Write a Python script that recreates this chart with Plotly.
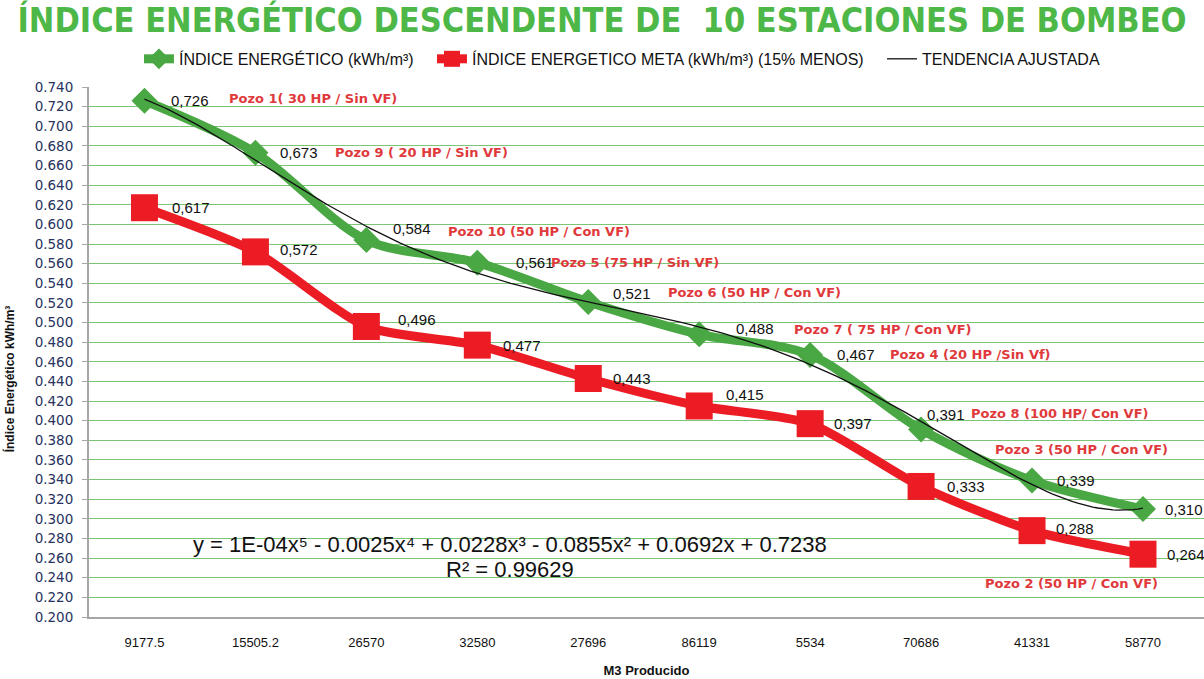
import numpy as np
import plotly.graph_objects as go

# M3 produced per pumping station (category labels on the x axis)
m3_producido = ["9177.5", "15505.2", "26570", "32580", "27696",
                "86119", "5534", "70686", "41331", "58770"]

# Energy index (kWh/m3) and the 15% lower target
indice = [0.726, 0.673, 0.584, 0.561, 0.521, 0.488, 0.467, 0.391, 0.339, 0.310]
indice_meta = [0.617, 0.572, 0.496, 0.477, 0.443, 0.415, 0.397, 0.333, 0.288, 0.264]

# Well names, one per station
pozos = ["Pozo 1( 30 HP / Sin VF)", "Pozo 9 ( 20 HP / Sin VF)",
         "Pozo 10 (50 HP / Con VF)", "Pozo 5 (75 HP / Sin VF)",
         "Pozo 6 (50 HP / Con VF)", "Pozo 7 ( 75 HP / Con VF)",
         "Pozo 4 (20 HP /Sin Vf)", "Pozo 8 (100 HP/ Con VF)",
         "Pozo 3 (50 HP / Con VF)", "Pozo 2 (50 HP / Con VF)"]

GREEN = "#4aa844"
RED = "#ec1c24"
NAVY = "#27325e"
PAD = "\u00a0" * 3

xs = np.arange(len(indice))

# 5th-degree polynomial trend over the energy index
coef = np.polyfit(xs, indice, 5)
xf = np.linspace(0, len(indice) - 1, 200)
yf = np.polyval(coef, xf)

fig = go.Figure()
fig.add_trace(go.Scatter(
    x=xs, y=indice, name="ÍNDICE ENERGÉTICO (kWh/m³)" + PAD,
    mode="lines+markers",
    line=dict(color=GREEN, width=9, shape="spline", smoothing=0.9),
    marker=dict(symbol="diamond", size=20, color=GREEN),
))
fig.add_trace(go.Scatter(
    x=xs, y=indice_meta, name="ÍNDICE ENERGETICO META (kWh/m³) (15% MENOS)" + PAD,
    mode="lines+markers",
    line=dict(color=RED, width=9, shape="spline", smoothing=0.7),
    marker=dict(symbol="square", size=27, color=RED),
))
fig.add_trace(go.Scatter(
    x=xf, y=yf, name="TENDENCIA AJUSTADA", mode="lines",
    line=dict(color="#111111", width=1.3),
))

# value labels (comma as decimal separator), offsets in pixels
def fmt(v):
    return f"{v:.3f}".replace(".", ",")

green_off = [(25, 0), (23, 0), (25, 12), (37, 0), (23, 8),
             (35, 6), (25, 0), (4, 15), (23, 0), (20, 0)]
red_off = [(26, 0), (23, 2), (30, 7), (24, 0), (23, 0),
           (25, 11), (22, 0), (24, 0), (22, 2), (22, 0)]
label_font = dict(family="Liberation Sans", size=15, color="#111111")
ann = []
for i, v in enumerate(indice):
    dx, dy = green_off[i]
    ann.append(dict(x=i, y=v, text=fmt(v), showarrow=False, xanchor="left",
                    yanchor="middle", xshift=dx, yshift=dy, font=label_font))
for i, v in enumerate(indice_meta):
    dx, dy = red_off[i]
    ann.append(dict(x=i, y=v, text=fmt(v), showarrow=False, xanchor="left",
                    yanchor="middle", xshift=dx, yshift=dy, font=label_font))

# well names next to each station
pozo_off = [(83, 2), (78, 0), (80, 9), (72, 0), (78, 9),
            (93, 5), (78, 0), (48, 16), (-39, 31), (-160, -29)]
pozo_font = dict(family="DejaVu Sans", size=13, color="#e0393b")
for i, name in enumerate(pozos):
    dx, dy = pozo_off[i]
    base = indice_meta[i] if i == len(pozos) - 1 else indice[i]
    ann.append(dict(x=i, y=base, text=f"<b>{name}</b>", showarrow=False,
                    xanchor="left", yanchor="middle", xshift=dx, yshift=dy,
                    font=pozo_font))

# trend equation
eq_font = dict(family="Liberation Sans", size=22, color="#111111")
ann.append(dict(xref="paper", yref="paper", x=0.378, y=0.137,
                text="y = 1E-04x⁵ - 0.0025x⁴ + 0.0228x³ - 0.0855x² + 0.0692x + 0.7238",
                showarrow=False, xanchor="center", yanchor="middle", font=eq_font))
ann.append(dict(xref="paper", yref="paper", x=0.378, y=0.090,
                text="R² = 0.99629", showarrow=False, xanchor="center",
                yanchor="middle", font=eq_font))

# y axis title
ann.append(dict(xref="paper", yref="paper", x=-0.071, y=0.45,
                text="<b>Índice Energético kWh/m³</b>", textangle=-90,
                showarrow=False, xanchor="center", yanchor="middle",
                font=dict(family="Liberation Sans", size=12, color="#111111")))

fig.update_layout(
    width=1204, height=679,
    margin=dict(l=89, r=0, t=87, b=62),
    paper_bgcolor="white", plot_bgcolor="white",
    title=dict(text="<b>ÍNDICE ENERGÉTICO DESCENDENTE DE \u00a010 ESTACIONES DE BOMBEO</b>",
               x=0.5, xanchor="center", y=0.97, yanchor="middle",
               font=dict(family="DejaVu Sans Condensed, Liberation Sans", size=34,
                         color="#4db848")),
    legend=dict(orientation="h", x=0.478, xanchor="center", y=1.053,
                yanchor="middle", bgcolor="rgba(0,0,0,0)",
                font=dict(family="Liberation Sans", size=16, color="#111111")),
    annotations=ann,
    showlegend=True,
)
fig.update_xaxes(
    range=[-0.5, 9.55], tickvals=list(xs), ticktext=m3_producido,
    showgrid=False, zeroline=False,
    showline=True, linecolor="#a6a6a6", linewidth=2,
    ticks="", ticklabelstandoff=12,
    tickfont=dict(family="Liberation Sans", size=13, color="#111111"),
    title=dict(text="<b>M3 Producido</b>", standoff=17,
               font=dict(family="Liberation Sans", size=13, color="#111111")),
)
fig.update_yaxes(
    range=[0.2, 0.74], dtick=0.02, tick0=0.2, tickformat=".3f",
    showgrid=True, gridcolor="#7cc576", gridwidth=1.2, zeroline=False,
    showline=True, linecolor="#a6a6a6", linewidth=2,
    ticks="outside", ticklen=5, tickcolor="#a6a6a6", ticklabelstandoff=6,
    tickfont=dict(family="DejaVu Sans", size=13.5, color=NAVY),
)

fig.write_html("out.html")
